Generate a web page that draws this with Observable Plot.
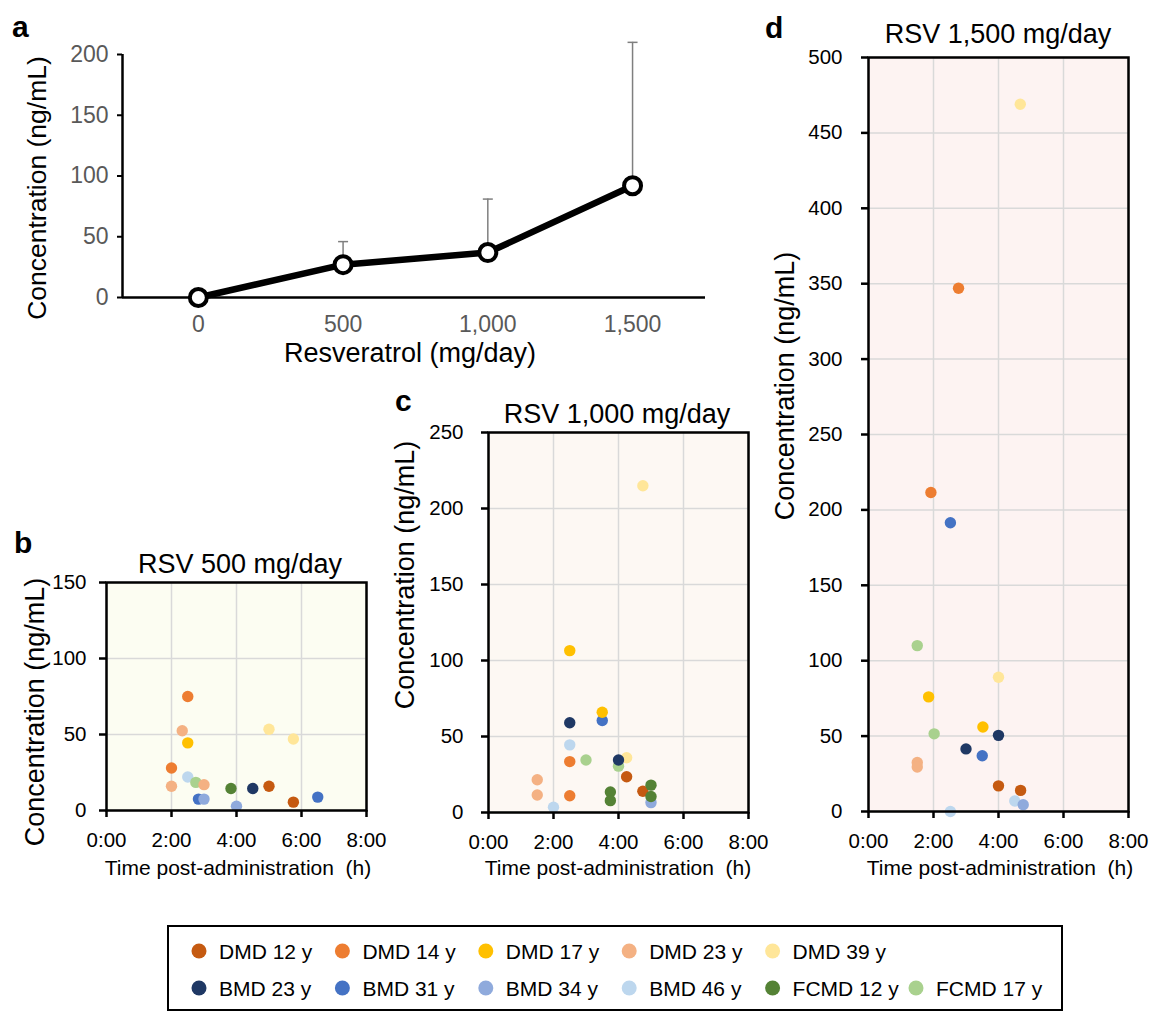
<!DOCTYPE html>
<html><head><meta charset="utf-8">
<script src="https://cdn.jsdelivr.net/npm/d3@7"></script>
<script src="https://cdn.jsdelivr.net/npm/@observablehq/plot@0.6"></script>
<style>
html,body{margin:0;padding:0;background:#fff;}
#root{position:relative;width:1153px;height:1013px;overflow:hidden;font-family:"Liberation Sans",Arial,sans-serif;}
.panel{position:absolute;}
#overlay{position:absolute;left:0;top:0;pointer-events:none;}
</style></head><body><div id="root"></div>
<script>
// ---------- data ----------
const subjects = ["DMD 12 y","DMD 14 y","DMD 17 y","DMD 23 y","DMD 39 y","BMD 23 y","BMD 31 y","BMD 34 y","BMD 46 y","FCMD 12 y","FCMD 17 y"];
const subjectColors = ["#c55a11","#ed7d31","#ffc000","#f4b183","#ffe699","#1f3864","#4472c4","#8faadc","#bdd7ee","#548235","#a9d18e"];

// panel a: mean concentration by dose, with upper SD
const doses = [0, 500, 1000, 1500];
const doseTickLabels = ["0", "500", "1,000", "1,500"];
const doseMeans = [0, 27, 37, 92];
const doseUpper = [0, 46, 81, 210];
const concTicksA = [0, 50, 100, 150, 200];

// time axis ticks (hours)
const timeTicks = [0, 2, 4, 6, 8];
const timeTickLabels = ["0:00", "2:00", "4:00", "6:00", "8:00"];

// panel b: RSV 500 mg/day
const bSubject = ["BMD 46 y","FCMD 17 y","DMD 14 y","DMD 14 y","DMD 23 y","DMD 23 y","DMD 23 y","DMD 17 y","DMD 39 y","DMD 39 y","FCMD 12 y","BMD 23 y","DMD 12 y","DMD 12 y","BMD 31 y","BMD 31 y","BMD 34 y","BMD 34 y"];
const bTime    = [2.5, 2.75, 2.5, 2.0, 2.33, 2.0, 3.0, 2.5, 5.0, 5.75, 3.83, 4.5, 5.0, 5.75, 2.83, 6.5, 3.0, 4.0];
const bConc    = [22, 18.5, 75, 28, 52.5, 16, 17, 44.5, 53.5, 47, 14.5, 14.5, 16, 5.5, 7.5, 8.8, 7.5, 2.8];

// panel c: RSV 1,000 mg/day
const cSubject = ["DMD 39 y","DMD 39 y","DMD 17 y","BMD 31 y","DMD 17 y","BMD 46 y","BMD 46 y","DMD 14 y","DMD 14 y","FCMD 17 y","FCMD 17 y","BMD 23 y","BMD 23 y","DMD 12 y","DMD 12 y","DMD 23 y","DMD 23 y","BMD 34 y","FCMD 12 y","FCMD 12 y","FCMD 12 y","FCMD 12 y"];
const cTime    = [4.75, 4.25, 2.5, 3.5, 3.5, 2.5, 2.0, 2.5, 2.5, 3.0, 4.0, 2.5, 4.0, 4.25, 4.75, 1.5, 1.5, 5.0, 3.75, 3.75, 5.0, 5.0];
const cConc    = [215, 36, 106.5, 60.5, 66, 44.5, 3.5, 33.5, 11, 34.5, 30.5, 59, 34.5, 23.5, 14, 21.5, 11.5, 6.5, 13.5, 7.8, 18, 10.5];

// panel d: RSV 1,500 mg/day
const dSubject = ["DMD 39 y","DMD 39 y","DMD 14 y","DMD 14 y","BMD 31 y","BMD 31 y","FCMD 17 y","FCMD 17 y","DMD 17 y","DMD 17 y","BMD 23 y","BMD 23 y","DMD 23 y","DMD 23 y","DMD 12 y","DMD 12 y","BMD 46 y","BMD 46 y","BMD 34 y"];
const dTime    = [4.67, 4.0, 2.77, 1.92, 2.52, 3.5, 1.5, 2.02, 1.85, 3.52, 4.0, 3.0, 1.5, 1.5, 4.0, 4.68, 4.5, 2.52, 4.76];
const dConc    = [469, 89, 347, 211.5, 191.5, 37, 110, 51.5, 76, 56, 50.5, 41.5, 32.5, 29.5, 17, 14, 7, 0, 4.5];

// ---------- helpers ----------
const root = document.getElementById("root");
const FONT = "Liberation Sans, Arial, sans-serif";
function rows(subj, time, conc) { return subj.map((s, i) => ({subject: s, time: time[i], conc: conc[i]})); }
function place(node, left, top) {
  const div = document.createElement("div");
  div.className = "panel";
  div.style.left = left + "px";
  div.style.top = top + "px";
  div.appendChild(node);
  root.appendChild(div);
}
const baseStyle = {background: "transparent", fontFamily: FONT, fontSize: "20px", color: "#000", overflow: "visible"};

// ---------- panel a ----------
(function () {
  const L = 122, R = 705, T = 54, B = 297;
  const mL = 100, mR = 20, mT = 30, mB = 50;
  const xDomain = [-262, 1752];
  const data = doses.map((d, i) => ({dose: d, mean: doseMeans[i], upper: doseUpper[i]}));
  const errs = data.filter(d => d.upper > d.mean);
  const capSymbol = {draw(ctx) { ctx.moveTo(-5, 0); ctx.lineTo(5, 0); }};
  const narrow = "Liberation Sans Narrow, Liberation Sans, sans-serif";
  const p = Plot.plot({
    width: mL + (R - L) + mR, height: mT + (B - T) + mB,
    marginLeft: mL, marginRight: mR, marginTop: mT, marginBottom: mB,
    style: baseStyle,
    x: {domain: xDomain},
    y: {domain: [0, 200]},
    marks: [
      Plot.ruleX(errs, {x: "dose", y1: "mean", y2: "upper", stroke: "#7f7f7f", strokeWidth: 1.5}),
      Plot.dot(errs, {x: "dose", y: "upper", symbol: capSymbol, r: 4, fill: "none", stroke: "#7f7f7f", strokeWidth: 1.5}),
      Plot.ruleY([0], {stroke: "#000", strokeWidth: 2.5}),
      Plot.ruleX([xDomain[0]], {stroke: "#000", strokeWidth: 2.5}),
      Plot.axisY(concTicksA, {tickSize: 5, tickPadding: 9, stroke: "#000", strokeWidth: 2, fill: "#595959", fontSize: 23, fontFamily: narrow, label: null}),
      Plot.axisX(doses, {tickSize: 0, tickPadding: 18, fill: "#595959", fontSize: 23, fontFamily: narrow, tickFormat: d => doseTickLabels[doses.indexOf(d)], label: null}),
      Plot.line(data, {x: "dose", y: "mean", stroke: "#000", strokeWidth: 6.5}),
      Plot.dot(data, {x: "dose", y: "mean", r: 8.5, fill: "#fff", stroke: "#000", strokeWidth: 4})
    ]
  });
  place(p, L - mL, T - mT);
})();

// ---------- scatter panels ----------
function scatterPanel(data, yMax, bg, L, R, T, B, yPad) {
  const mL = 110, mR = 15, mT = 30, mB = 50;
  const yTicks = d3.range(0, yMax + 1, 50);
  const p = Plot.plot({
    width: mL + (R - L) + mR, height: mT + (B - T) + mB,
    marginLeft: mL, marginRight: mR, marginTop: mT, marginBottom: mB,
    style: baseStyle,
    x: {domain: [0, 8]},
    y: {domain: [0, yMax]},
    color: {domain: subjects, range: subjectColors},
    marks: [
      Plot.frame({fill: bg, stroke: "none"}),
      Plot.gridX(timeTicks, {stroke: "#d9d9d9", strokeOpacity: 1, strokeWidth: 1.5}),
      Plot.gridY(yTicks, {stroke: "#d9d9d9", strokeOpacity: 1, strokeWidth: 1.5}),
      Plot.dot(data, {x: "time", y: "conc", fill: "subject", r: 5.7}),
      Plot.frame({stroke: "#000", strokeWidth: 2.5}),
      Plot.axisX(timeTicks, {tickSize: 7, tickPadding: 15, stroke: "#000", strokeWidth: 2.5, fontSize: 20.5, tickFormat: d => timeTickLabels[timeTicks.indexOf(d)], label: null}),
      Plot.axisY(yTicks, {tickSize: 7, tickPadding: yPad, stroke: "#000", strokeWidth: 2.5, fontSize: 20.5, label: null})
    ]
  });
  place(p, L - mL, T - mT);
}
scatterPanel(rows(bSubject, bTime, bConc), 150, "#fcfdf2", 106, 366, 582, 810, 13);
scatterPanel(rows(cSubject, cTime, cConc), 250, "#fdf8f3", 488, 748, 432, 812, 18);
scatterPanel(rows(dSubject, dTime, dConc), 500, "#fdf3f2", 868, 1128, 57, 811, 19);

// ---------- overlay text + legend ----------
const svg = d3.select(root).append("svg").attr("id", "overlay")
  .attr("width", 1153).attr("height", 1013)
  .style("font-family", FONT);

function txt(s, x, y, size, opts = {}) {
  const t = svg.append("text").attr("x", x).attr("y", y).attr("font-size", size).attr("fill", "#000").text(s);
  if (opts.anchor) t.attr("text-anchor", opts.anchor);
  if (opts.bold) t.attr("font-weight", "bold");
  if (opts.rotate) t.attr("transform", `rotate(-90 ${x} ${y})`).attr("dominant-baseline", "central");
  return t;
}
// panel letters
txt("a", 12, 37, 30, {bold: true});
txt("b", 14, 553, 30, {bold: true});
txt("c", 395, 411, 30, {bold: true});
txt("d", 765, 38, 30, {bold: true});
// titles
txt("RSV 500 mg/day", 240, 573, 27, {anchor: "middle"});
txt("RSV 1,000 mg/day", 617, 423, 27, {anchor: "middle"});
txt("RSV 1,500 mg/day", 998, 43, 27, {anchor: "middle"});
// y labels
txt("Concentration (ng/mL)", 37, 188, 26.5, {anchor: "middle", rotate: true});
txt("Concentration (ng/mL)", 35, 712, 27, {anchor: "middle", rotate: true});
txt("Concentration (ng/mL)", 405, 575, 27, {anchor: "middle", rotate: true});
txt("Concentration (ng/mL)", 785, 386, 27, {anchor: "middle", rotate: true});
// x labels
txt("Resveratrol (mg/day)", 410, 362, 27, {anchor: "middle"});
const timeLabel = "Time post-administration\u00a0\u00a0(h)";
txt(timeLabel, 238, 875, 21, {anchor: "middle"});
txt(timeLabel, 618, 875, 21, {anchor: "middle"});
txt(timeLabel, 1000, 875, 21, {anchor: "middle"});

// legend
svg.append("rect").attr("x", 168).attr("y", 926).attr("width", 894).attr("height", 84)
  .attr("fill", "none").attr("stroke", "#000").attr("stroke-width", 2);
const legendRows = [subjects.slice(0, 5), subjects.slice(5)];
const colW = 143.4, col0 = 199, rowY = [951, 988];
legendRows.forEach((row, r) => {
  row.forEach((s, c) => {
    const cx = col0 + c * colW;
    svg.append("circle").attr("cx", cx).attr("cy", rowY[r]).attr("r", 7.5)
      .attr("fill", subjectColors[subjects.indexOf(s)]);
    txt(s, cx + 20, rowY[r] + 7.5, 21);
  });
});
</script></body></html>
